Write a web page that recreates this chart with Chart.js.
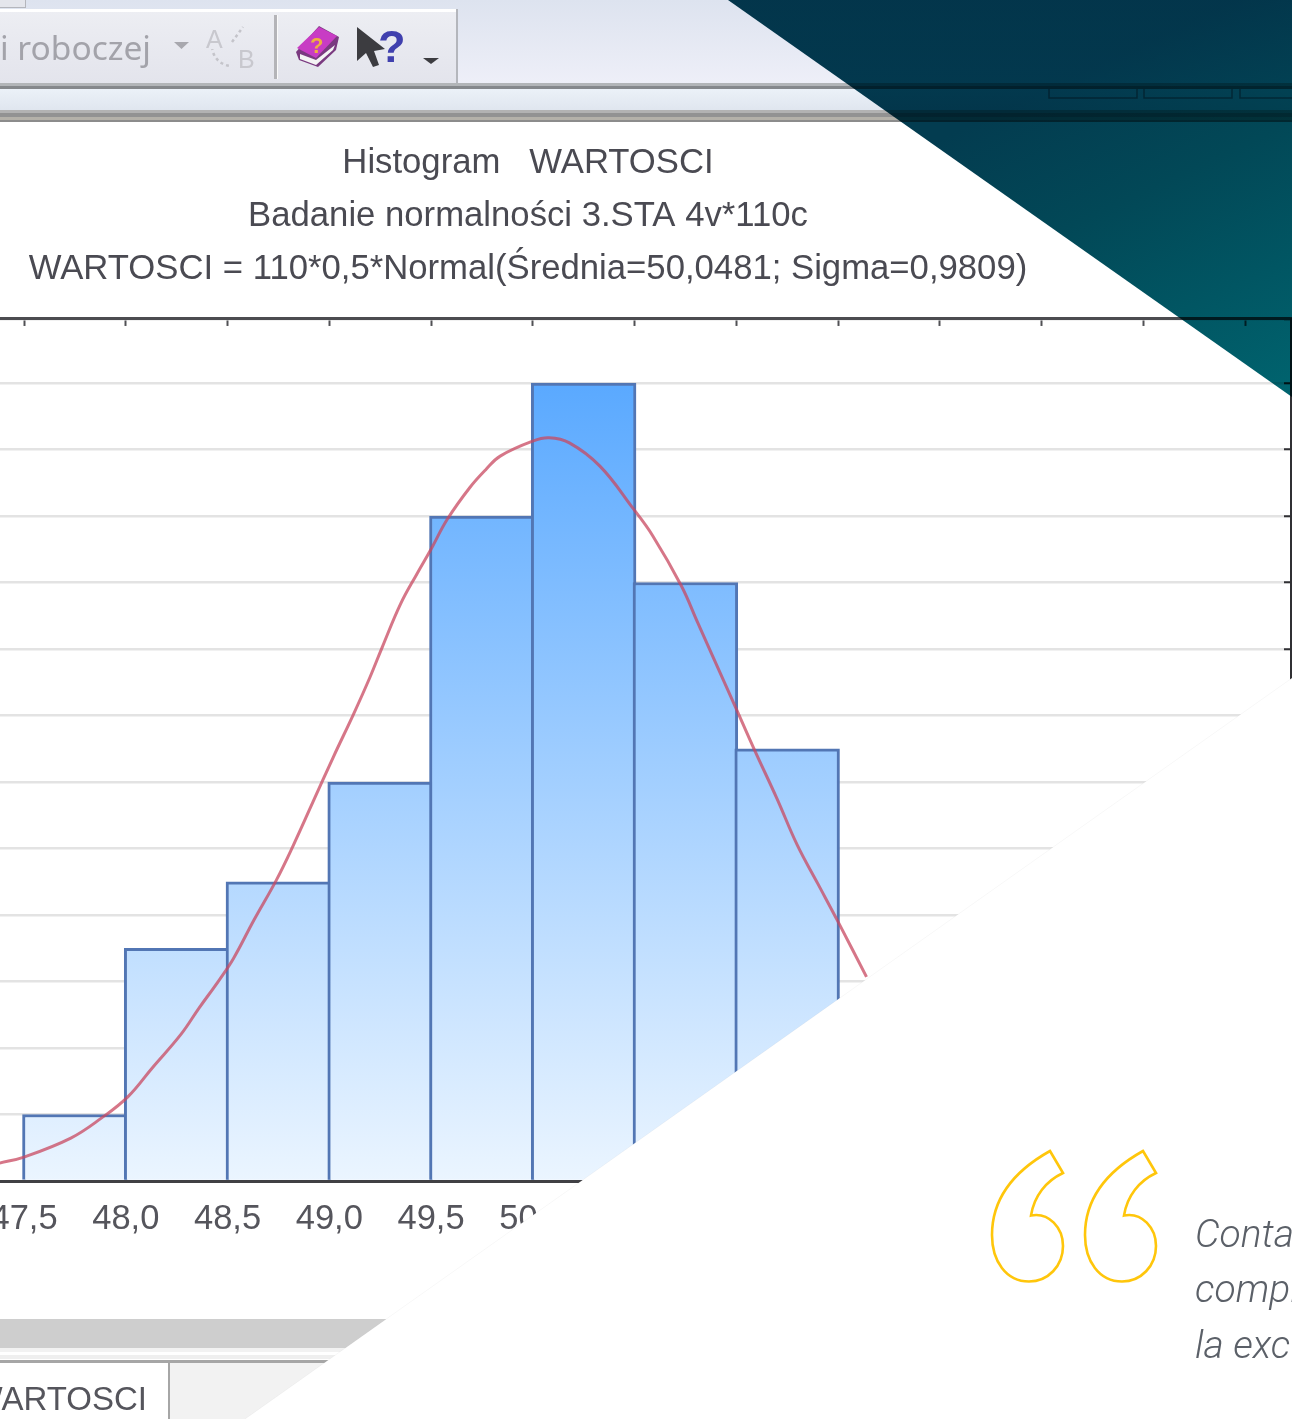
<!DOCTYPE html>
<html><head><meta charset="utf-8">
<style>html,body{margin:0;padding:0;background:#fff;overflow:hidden}canvas{display:block}</style>
<script src="https://cdn.jsdelivr.net/npm/chart.js@4"></script>
</head><body><canvas id="c" width="1292" height="1419"></canvas>
<script>
const titleLines = ["Histogram   WARTOSCI","Badanie normalności 3.STA 4v*110c","WARTOSCI = 110*0,5*Normal(Średnia=50,0481; Sigma=0,9809)"];
const binCenters = [47.75,48.25,48.75,49.25,49.75,50.25,50.75,51.25];
const binCounts = [2,7,9,12,20,24,18,13];
const curveX = [47.38,47.50,47.73,47.88,48.01,48.13,48.27,48.36,48.46,48.53,48.63,48.74,48.82,48.92,49.02,49.12,49.20,49.26,49.35,49.43,49.50,49.58,49.69,49.77,49.84,50.00,50.08,50.18,50.33,50.49,50.59,50.73,50.81,50.89,51.00,51.09,51.20,51.30,51.40,51.50,51.64];
const curveY = [0.54,0.72,1.29,1.89,2.53,3.40,4.40,5.20,6.05,6.70,7.85,9.05,10.05,11.40,12.75,14.05,15.15,16.05,17.35,18.25,19.00,19.90,20.85,21.40,21.80,22.25,22.35,22.20,21.50,20.25,19.40,17.90,16.80,15.70,14.20,12.96,11.50,10.10,8.95,7.80,6.14];
const tickValues = [47.5,48,48.5,49,49.5,50,50.5,51,51.5,52,52.5,53,53.5];
const tabLabel = "WARTOSCI";
const toolbarLabel = "i roboczej";
const quoteLines = ["Conta","compl","la exc"];

function rect(c,x,y,w,h,col){c.fillStyle=col;c.fillRect(x,y,w,h);}
function poly(c,pts){c.beginPath();pts.forEach((p,i)=>i?c.lineTo(p[0],p[1]):c.moveTo(p[0],p[1]));c.closePath();}
function vgrad(c,y0,y1,a,b){const g=c.createLinearGradient(0,y0,0,y1);g.addColorStop(0,a);g.addColorStop(1,b);return g;}

const backdrop = {id:'backdrop',beforeDraw(chart){
  const c=chart.ctx;c.save();
  rect(c,0,0,1292,1419,'#fff');
  rect(c,0,0,1292,84,vgrad(c,0,84,'#DDE3EF','#EEEFF8'));
  rect(c,0,0,25,8,'#E4E6EC');rect(c,0,7,25,1,'#B4B6BC');rect(c,25,0,1,8,'#B4B6BC');
  rect(c,0,9,457,75,vgrad(c,9,84,'#EDEEF3','#E3E4EC'));
  rect(c,0,9,456,3,'#FFFFFF');rect(c,456,9,2,77,'#B4B6BC');
  rect(c,0,83,1292,3,'#B2B5B8');rect(c,0,86,1292,3,'#85888C');
  rect(c,0,89,1292,21,vgrad(c,89,110,'#EBF1F8','#E0E6EF'));
  rect(c,0,110,1292,3,'#B2B2B2');rect(c,0,113,1292,4,'#929292');rect(c,0,117,1292,3,'#B4B1A9');rect(c,0,120,1292,2,'#8C8C8C');
  // tabs on the right of the window bar
  c.strokeStyle='#8A94A0';c.lineWidth=1.5;
  [[1049,88],[1144,88],[1240,60]].forEach(t=>{c.beginPath();c.moveTo(t[0],89);c.lineTo(t[0],98);c.lineTo(t[0]+t[1],98);c.lineTo(t[0]+t[1],89);c.stroke();});
  // toolbar text and icons
  c.font='33.5px "Noto Sans"';c.fillStyle='#A3A3AA';c.textBaseline='alphabetic';c.textAlign='left';
  c.fillText(toolbarLabel,0,60);
  c.fillStyle='#A8A8AE';poly(c,[[174,42],[189,42],[181.5,49]]);c.fill();
  c.font='25px "Liberation Sans"';c.fillStyle='#C8C8CE';c.fillText('A',206,48);c.fillText('B',238,68);
  c.strokeStyle='#C4C4CA';c.lineWidth=2.5;c.setLineDash([3,3]);
  c.beginPath();c.arc(232,46,20,Math.PI*0.55,Math.PI*0.95);c.stroke();
  c.beginPath();c.moveTo(232,42);c.lineTo(243,27);c.stroke();c.setLineDash([]);
  rect(c,274,15,3,64,'#B4B4B8');rect(c,277,15,1,64,'#FAFAFA');
  poly(c,[[296,52],[319,26],[339,37],[336,50],[318,67],[299,60]]);c.fillStyle='#7A3A80';c.fill();
  poly(c,[[297,48],[319,27],[337,36],[316,58]]);c.fillStyle='#C83CC4';c.fill();
  poly(c,[[300,54],[316,60],[335,45],[333,50],[316,65],[300,59]]);c.fillStyle='#F4F4F4';c.fill();
  c.font='bold 22px "Liberation Sans"';c.fillStyle='#F0B040';c.fillText('?',310,53);
  poly(c,[[357,27],[357,61],[366,53],[373,67],[379,65],[374,51],[385,49]]);c.fillStyle='#3C3C40';c.fill();
  c.font='bold 45px "Liberation Sans"';c.fillStyle='#4040AE';c.fillText('?',378,62);
  poly(c,[[423,58],[439,58],[431,64]]);c.fillStyle='#3C3C40';c.fill();
  // status band and sheet tab
  rect(c,0,1319,700,29,'#CECECE');rect(c,0,1348,700,4,'#F2F2F2');rect(c,0,1355,700,4,'#EFEFEF');
  rect(c,0,1360,700,3,'#A6A6A6');rect(c,0,1363,700,56,'#F2F2F2');
  rect(c,0,1363,168,56,'#FFFFFF');rect(c,168,1361,2,58,'#A6A6A6');
  c.font='33px "Liberation Sans"';c.fillStyle='#55555C';c.textAlign='right';c.fillText(tabLabel,147,1410);
  c.restore();
}};

function quoteMark(c,dx){
  c.beginPath();
  c.moveTo(1050+dx,1151);
  c.lineTo(1063+dx,1173);
  c.bezierCurveTo(1046+dx,1181,1034+dx,1196,1031+dx,1215.5);
  c.bezierCurveTo(1049+dx,1212,1063+dx,1228,1063+dx,1246);
  c.bezierCurveTo(1063+dx,1266,1048+dx,1281.5,1029+dx,1281.5);
  c.bezierCurveTo(1006+dx,1281.5,992+dx,1261,992+dx,1235);
  c.bezierCurveTo(992+dx,1197,1016+dx,1170,1050+dx,1151);
  c.closePath();c.stroke();
}
const overlay = {id:'overlay',afterLayout(chart){chart.titleBlock.right=1056;},afterDraw(chart){
  const c=chart.ctx;c.save();
  c.globalCompositeOperation='multiply';
  const g=c.createLinearGradient(1130,50,1292,397);
  g.addColorStop(0,'#033C50');g.addColorStop(0.35,'#024857');g.addColorStop(1,'#00646F');
  c.fillStyle=g;poly(c,[[728,0],[1292,0],[1292,397]]);c.fill();
  c.globalCompositeOperation='source-over';
  c.fillStyle='#FFFFFF';poly(c,[[245,1419],[1292,678],[1292,1419]]);c.fill();
  c.strokeStyle='rgba(0,0,0,0.03)';c.lineWidth=1;c.beginPath();c.moveTo(245,1419);c.lineTo(1292,678);c.stroke();
  c.strokeStyle='#FFC60B';c.lineWidth=2.6;quoteMark(c,0);quoteMark(c,93);
  c.font='italic 300 39px Roboto';c.fillStyle='#5B6068';c.textAlign='left';c.textBaseline='alphabetic';
  [1247,1302,1358].forEach((y,i)=>c.fillText(quoteLines[i],1195,y));
  c.restore();
}};

const setTicks = s => { s.ticks = tickValues.map(v=>({value:v})); };
const commaLabel = v => v.toFixed(1).replace('.',',');

new Chart(document.getElementById('c'),{
  type:'bar',
  data:{datasets:[
    {type:'line',order:0,data:curveX.map((x,i)=>({x,y:curveY[i]})),borderColor:'rgba(200,72,96,0.75)',borderWidth:3,pointRadius:0,tension:0.4,cubicInterpolationMode:'default',fill:false},
    {type:'bar',order:1,data:binCenters.map((x,i)=>({x,y:binCounts[i]})),barThickness:104.75,grouped:false,borderWidth:3,borderColor:'#5276B4',borderSkipped:'start',
     backgroundColor(ctx){const a=ctx.chart.chartArea;if(!a)return '#9CF';const y=ctx.chart.scales.y;const gr=ctx.chart.ctx.createLinearGradient(0,y.getPixelForValue(24),0,y.getPixelForValue(0));gr.addColorStop(0,'#5AA9FF');gr.addColorStop(1,'#EBF5FF');return gr;}}
  ]},
  options:{
    responsive:false,animation:false,devicePixelRatio:1,
    layout:{padding:{left:0,right:1,top:137,bottom:178}},
    plugins:{legend:{display:false},tooltip:{enabled:false},
      title:{display:true,text:titleLines,color:'#4A4A52',font:{family:'"Liberation Sans"',size:34.7,weight:'normal',lineHeight:1.527},padding:{top:0,bottom:23}}},
    scales:{
      x:{type:'linear',position:'bottom',min:47.382,max:53.726,offset:false,
        afterBuildTicks:setTicks,
        afterFit(s){s.height=60;s.paddingLeft=0;s.paddingRight=0;},
        grid:{display:true,drawOnChartArea:false,drawTicks:false,offset:false},
        border:{display:true,color:'#404044',width:3},
        ticks:{autoSkip:false,maxRotation:0,padding:18,color:'#55555C',font:{family:'"Liberation Sans"',size:34.5},callback:commaLabel}},
      x2:{type:'linear',position:'top',min:47.382,max:53.726,offset:false,
        afterBuildTicks:setTicks,
        afterFit(s){s.height=0;s.paddingLeft=0;s.paddingRight=0;},
        grid:{display:true,drawOnChartArea:false,drawTicks:true,tickLength:-7,tickColor:'#505054',tickWidth:2,offset:false},
        border:{display:true,color:'#4C4C50',width:3},
        ticks:{display:false,autoSkip:false}},
      y:{type:'linear',position:'right',min:0,max:25.925,
        afterFit(s){s.width=0;},
        grid:{color:'#E3E3E3',lineWidth:2.5,drawTicks:true,tickLength:-7,tickColor:'#303034',tickWidth:2},
        border:{display:true,color:'#303034',width:2},
        ticks:{display:false,stepSize:2}}
    }
  },
  plugins:[backdrop,overlay]
});
</script></body></html>
